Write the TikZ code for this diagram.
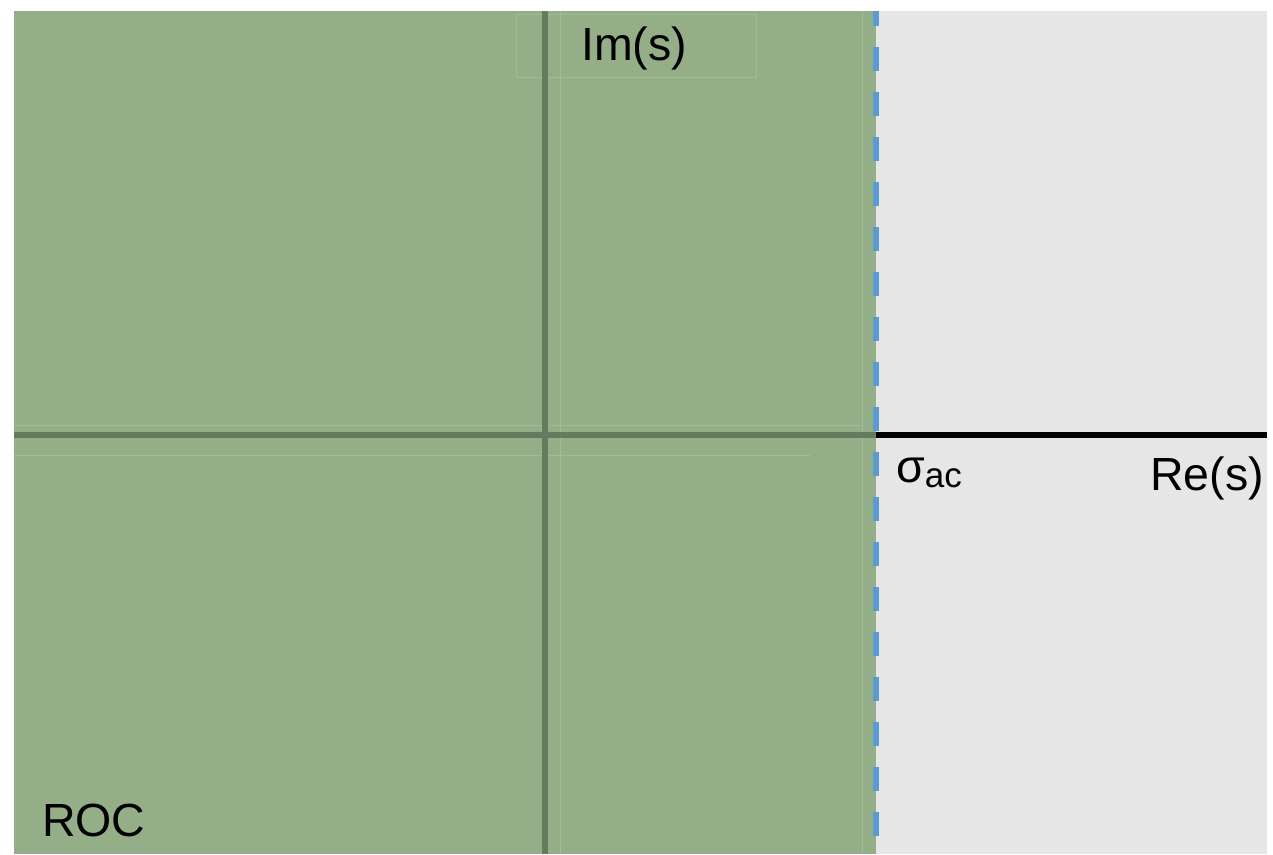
\documentclass[tikz,border=0pt]{standalone}
\usepackage{fontspec}
\setmainfont{Liberation Sans}
\definecolor{roc}{HTML}{94AE88}
\definecolor{plane}{HTML}{E6E6E6}
\definecolor{axisg}{HTML}{667A60}
\definecolor{faint}{HTML}{A3BC97}
\definecolor{bound}{HTML}{5B9BD5}
\tikzset{
  lbl/.style={inner sep=0pt, anchor=base west, font=\fontsize{46.5}{50}\selectfont},
  faintline/.style={draw=faint, line width=1pt},
  axisline/.style={line width=6pt},
}
\begin{document}
\begin{tikzpicture}[x=1pt,y=-1pt]
\useasboundingbox (0,0) rectangle (1273,854);
\fill[white] (0,0) rectangle (1273,854);
% planes
\fill[plane] (14,11) rectangle (1267,854);
\fill[roc] (14,11) rectangle (876,854);
% faint guide lines
\draw[faintline] (516,14) rectangle (756,77);
\draw[faintline] (14,425) -- (862,425);
\draw[faintline] (14,455) -- (810,455);
\draw[faintline] (560,11) -- (560,854);
\draw[faintline] (862,11) -- (862,854);
% coordinates
\coordinate (imtop) at (545,11);
\coordinate (imbot) at (545,854);
\coordinate (releft) at (14,435);
\coordinate (bnd) at (876,435);
\coordinate (reright) at (1267,435);
\coordinate (bndtop) at (876,11);
\coordinate (bndbot) at (876,854);
% axes
\draw[axisline, draw=axisg] (imtop) -- (imbot);
\draw[axisline, draw=axisg] (releft) -- (bnd);
\draw[axisline, draw=black] (bnd) -- (reright);
% boundary
\draw[draw=bound, line width=6pt, dash pattern=on 24pt off 21pt, dash phase=9pt] (bndtop) -- (bndbot);
% labels
\node[lbl] (im) at (581,60) {Im(s)};
\node[lbl] (re) at (1150,490) {Re(s)};
\node[lbl] (roc) at (42,836) {ROC};
\node[lbl] (sig) at (896,482) {σ{\fontsize{35}{40}\selectfont\raisebox{-5pt}{ac}}};
\end{tikzpicture}
\end{document}
